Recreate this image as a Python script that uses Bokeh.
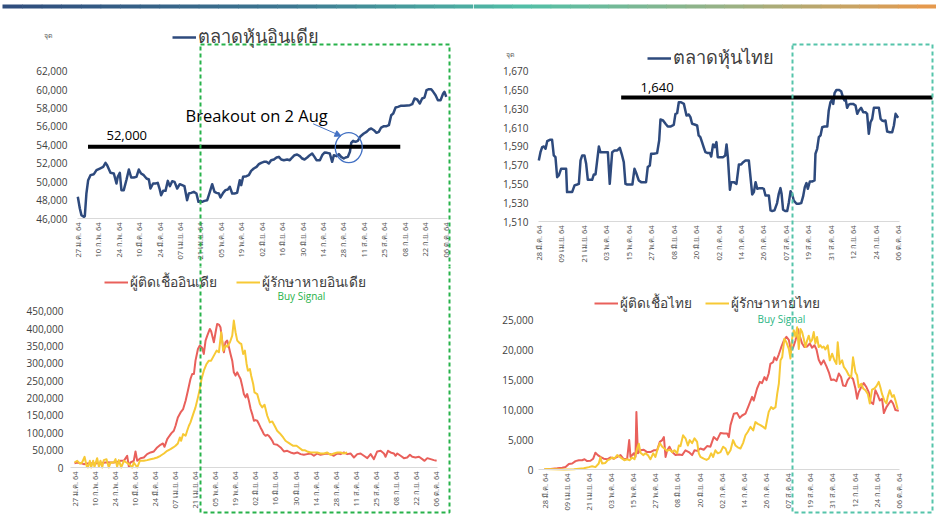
import math
from bokeh.plotting import figure
from bokeh.layouts import row, column
from bokeh.models import (Range1d, FixedTicker, NumeralTickFormatter, Label,
                          BoxAnnotation, Legend, LegendItem, Arrow, NormalHead)
from bokeh.embed import file_html
from bokeh.resources import INLINE

# ---------------- axis ticks / labels ----------------
india_tick_day = [0, 14, 28, 42, 56, 70, 84, 98, 112, 126, 140, 154, 168, 182, 196, 210, 224, 238, 252]
india_tick_label = ["27 ม.ค. 64", "10 ก.พ. 64", "24 ก.พ. 64", "10 มี.ค. 64", "24 มี.ค. 64", "07 เม.ย. 64",
                    "21 เม.ย. 64", "05 พ.ค. 64", "19 พ.ค. 64", "02 มิ.ย. 64", "16 มิ.ย. 64", "30 มิ.ย. 64",
                    "14 ก.ค. 64", "28 ก.ค. 64", "11 ส.ค. 64", "25 ส.ค. 64", "08 ก.ย. 64", "22 ก.ย. 64",
                    "06 ต.ค. 64"]
thai_tick_day = [0, 12, 24, 36, 48, 60, 72, 84, 96, 108, 120, 132, 144, 156, 168, 180, 192]
thai_tick_label = ["28 มี.ค. 64", "09 เม.ย. 64", "21 เม.ย. 64", "03 พ.ค. 64", "15 พ.ค. 64", "27 พ.ค. 64",
                   "08 มิ.ย. 64", "20 มิ.ย. 64", "02 ก.ค. 64", "14 ก.ค. 64", "26 ก.ค. 64", "07 ส.ค. 64",
                   "19 ส.ค. 64", "31 ส.ค. 64", "12 ก.ย. 64", "24 ก.ย. 64", "06 ต.ค. 64"]
india_stock_ticks = [46000, 48000, 50000, 52000, 54000, 56000, 58000, 60000, 62000]
thai_stock_ticks = [1510, 1530, 1550, 1570, 1590, 1610, 1630, 1650, 1670]
india_covid_ticks = [0, 50000, 100000, 150000, 200000, 250000, 300000, 350000, 400000, 450000]
thai_covid_ticks = [0, 5000, 10000, 15000, 20000, 25000]

# ---------------- India stock market (days after 27 Jan 2021) ----------------
india_stock_day = [0, 1.4, 2.5, 4.1, 4.8, 5.9, 7.1, 8.7, 11, 12.8,
                   15.1, 17.4, 19, 20.1, 22.4, 24.7, 26.5, 27.4, 28.8, 29.9,
                   31.5, 33.4, 35, 36.6, 38.4, 40.2, 41.8, 43.4, 45.2, 47.1,
                   48.7, 49.8, 51.6, 53.2, 54.8, 56, 57.1, 58.5, 60.1, 61.7,
                   63.1, 64.7, 66.3, 68.1, 69.9, 71.5, 73.1, 74.9, 76.1, 77.7,
                   79.5, 81.3, 82.7, 84.1, 85.2, 86.8, 88.7, 90.5, 92.1, 93.7,
                   95.1, 96.7, 97.8, 99.6, 101.2, 102.8, 104.2, 105.8, 107.4, 109.2,
                   111, 112, 113.3, 115.6, 117.2, 118.8, 120.6, 122.5, 124.1, 125.7,
                   127.5, 129.3, 130.9, 132.5, 134.4, 136.2, 137.8, 139.4, 141.2, 143.5,
                   145.3, 146.9, 148.5, 150.3, 152.2, 153.8, 155.4, 157.2, 159, 160.6,
                   162.2, 163.6, 165.9, 167.5, 169.1, 170.9, 172.7, 174.3, 175.5, 177.3,
                   178.9, 180.5, 182.3, 183.5, 185.1, 186.5, 187.4, 188.7, 190.3, 191.9,
                   193.8, 196, 197.9, 199.5, 201.1, 202.9, 204.7, 206.3, 207.9, 209.8,
                   211.6, 213.2, 214.8, 216.2, 217.8, 219.4, 221.2, 223.5, 225.7, 227.6,
                   229.2, 230.8, 232.6, 234.4, 236, 237.6, 239, 240.6, 242.2, 243.6,
                   245.2, 246.8, 248.6, 250.4, 251.3, 252.5]
india_stock = [48353, 47085, 46362, 46181, 46253, 48715, 50163, 50706, 50814, 51249,
               51430, 51611, 52045, 51792, 50959, 50887, 49801, 50525, 50959, 49077,
               49077, 50235, 51321, 50452, 50452, 50525, 51321, 50887, 50706, 50344,
               50235, 49258, 49801, 49801, 49873, 49258, 48534, 49004, 49004, 50090,
               49511, 50054, 49982, 49258, 49728, 49620, 49511, 47991, 48715, 48787,
               48896, 48715, 47810, 47918, 47810, 47918, 47991, 48896, 49728, 48896,
               48787, 48715, 48280, 48787, 49077, 49149, 49439, 48715, 48715, 48787,
               50163, 49620, 50525, 50597, 50706, 51176, 51430, 51611, 51901, 52045,
               52154, 52154, 51973, 52335, 52407, 52624, 52697, 52407, 52335, 52407,
               52335, 52624, 52878, 52950, 52769, 52516, 52407, 52624, 52878, 53059,
               52697, 52335, 52335, 52878, 53167, 53131, 53059, 52154, 52878, 52769,
               52986, 52697, 52516, 52624, 52697, 53240, 54217, 54434, 54326, 54434,
               54941, 55231, 55412, 55665, 55774, 55593, 55303, 55412, 55882, 56027,
               56027, 56136, 57222, 57403, 58055, 58127, 58235, 58235, 58271, 58308,
               58416, 59032, 58923, 58489, 59032, 59140, 59937, 60045, 60045, 59756,
               59394, 58851, 58851, 59575, 59756, 59213]
india_level = 53800            # drawn resistance line ("52,000" note)
india_level_days = (7, 221)
breakout_day, breakout_val = 185.7, 53700

# ---------------- Thai stock market (days after 28 Mar 2021) ----------------
thai_stock_day = [0, 0.9, 1.8, 2.7, 3.6, 4.5, 5.9, 7.1, 8.0, 8.9,
                  9.8, 10.7, 11.9, 13.4, 14.6, 15.1, 16.6, 17.8, 19.1, 20.5,
                  21.4, 22.3, 23.2, 24.4, 25.3, 26.2, 27.6, 28.5, 29.4, 30.3,
                  31.2, 32.1, 32.9, 34.4, 35.6, 36.9, 37.9, 39.2, 40.4, 41.9,
                  43.3, 44.5, 45.4, 46.3, 47.2, 48.6, 50.0, 51.1, 52.2, 53.4,
                  54.7, 56.1, 57.3, 58.2, 59.3, 60.0, 61.4, 63.2, 64.3, 65.0,
                  66.4, 67.7, 68.9, 70.3, 72.1, 73.0, 73.9, 74.8, 76.0, 77.5,
                  78.9, 80.1, 81.0, 81.9, 83.2, 84.6, 85.4, 86.3, 87.2, 88.2,
                  89.0, 90.3, 91.4, 92.1, 93.1, 94.0, 94.9, 95.6, 97.1, 98.5,
                  99.6, 100.3, 101.0, 102.1, 102.8, 104.2, 105.6, 106.9, 108.1, 109.2,
                  110.4, 111.7, 112.2, 113.1, 114.0, 114.9, 115.8, 116.7, 118.1, 119.3,
                  120.2, 121.1, 122.0, 122.9, 123.8, 124.7, 125.9, 127.3, 128.2, 129.1,
                  129.7, 130.5, 131.8, 132.7, 133.6, 134.5, 135.4, 136.2, 137.7, 138.9,
                  140.2, 141.2, 142.1, 143.0, 143.7, 144.8, 146.0, 147.3, 147.8, 148.7,
                  149.6, 150.5, 151.4, 152.6, 154.1, 154.9, 155.8, 156.7, 157.3, 158.0,
                  159.0, 160.3, 161.5, 162.6, 163.3, 163.9, 164.7, 165.6, 166.5, 167.9,
                  169.2, 170.1, 171.0, 172.2, 173.3, 174.5, 175.4, 176.3, 177.2, 178.1,
                  179.0, 180.4, 181.7, 182.6, 183.4, 184.3, 185.2, 186.1, 187.5, 188.8,
                  189.7, 190.6, 191.5, 192.0]
thai_stock = [1575.0, 1583.8, 1589.2, 1589.9, 1587.4, 1595.5, 1597.0, 1597.0, 1580.3, 1578.5,
              1557.2, 1559.0, 1566.1, 1566.1, 1566.1, 1541.3, 1541.3, 1541.3, 1548.4, 1549.4,
              1550.1, 1575.0, 1580.3, 1580.3, 1571.4, 1554.4, 1554.4, 1554.4, 1560.1, 1560.1,
              1575.0, 1589.9, 1583.8, 1583.8, 1583.8, 1583.8, 1550.1, 1583.8, 1585.6, 1585.6,
              1588.4, 1580.3, 1573.2, 1550.1, 1549.4, 1549.4, 1549.4, 1566.1, 1560.8, 1553.7,
              1551.9, 1551.9, 1551.9, 1567.9, 1569.6, 1582.1, 1582.1, 1582.8, 1596.2, 1618.6,
              1617.5, 1614.0, 1611.1, 1611.1, 1612.9, 1624.6, 1625.3, 1637.0, 1637.0, 1635.2,
              1622.8, 1623.9, 1621.1, 1614.0, 1613.3, 1612.2, 1601.6, 1599.8, 1594.5, 1588.4,
              1583.8, 1582.8, 1582.8, 1579.2, 1592.0, 1589.2, 1594.5, 1578.5, 1578.5, 1578.5,
              1580.3, 1592.0, 1578.5, 1543.8, 1551.9, 1551.9, 1550.1, 1570.7, 1570.7, 1573.2,
              1575.0, 1575.0, 1575.0, 1557.2, 1538.8, 1541.3, 1551.9, 1544.8, 1545.5, 1545.5,
              1544.8, 1537.7, 1537.7, 1537.7, 1521.8, 1521.1, 1521.8, 1529.6, 1539.5, 1545.5,
              1539.5, 1522.5, 1521.1, 1521.1, 1530.6, 1542.3, 1538.8, 1532.4, 1528.9, 1528.9,
              1529.6, 1536.7, 1546.6, 1550.9, 1544.8, 1552.6, 1552.6, 1553.7, 1582.1, 1587.4,
              1599.8, 1601.6, 1610.4, 1611.1, 1611.1, 1628.2, 1637.0, 1639.5, 1635.2, 1646.6,
              1650.1, 1650.1, 1648.7, 1641.6, 1638.8, 1640.6, 1631.0, 1634.5, 1635.2, 1635.2,
              1633.5, 1624.6, 1628.2, 1631.0, 1626.4, 1626.4, 1624.6, 1603.3, 1615.7, 1619.3,
              1631.0, 1631.0, 1631.0, 1619.3, 1617.5, 1616.8, 1617.5, 1605.8, 1605.1, 1605.1,
              1612.2, 1624.6, 1621.8, 1620.4]
thai_level = 1642              # drawn resistance line ("1,640" note)
thai_level_start_day = 44

# ---------------- India daily cases / recoveries (thousands, days after 27 Jan) ----------------
india_case_day = [0, 1.9, 4.2, 6.5, 8.8, 11.2, 13.5, 15.8, 18.1, 20.4,
                  22.8, 25.1, 27.4, 29.7, 32.1, 34.4, 36.7, 37.9, 39.0, 41.3,
                  42.5, 43.7, 46.0, 48.3, 50.6, 53.0, 55.3, 57.6, 59.9, 61.6,
                  62.7, 64.6, 66.2, 67.4, 69.2, 70.4, 72.0, 73.9, 75.7, 77.4,
                  79.0, 80.8, 82.0, 83.2, 84.3, 86.0, 87.3, 89.0, 90.1, 91.3,
                  92.5, 94.3, 95.2, 97.1, 98.3, 99.4, 100.6, 101.7, 102.9, 104.1,
                  105.2, 106.4, 107.6, 108.7, 109.9, 111.0, 112.2, 113.4, 114.5, 115.7,
                  116.8, 118.0, 119.2, 120.3, 121.5, 122.7, 123.8, 125.0, 126.1, 127.3,
                  128.5, 129.6, 130.8, 131.9, 133.1, 134.3, 135.4, 136.6, 137.8, 138.9,
                  141.2, 143.6, 145.9, 148.2, 150.5, 152.9, 155.2, 157.5, 159.8, 162.1,
                  164.5, 166.8, 169.1, 171.4, 173.8, 176.1, 178.4, 180.7, 183.1, 185.4,
                  187.7, 190.0, 192.3, 194.7, 197.0, 199.3, 201.6, 204.0, 206.3, 208.6,
                  210.9, 213.3, 215.6, 216.7, 218.4, 220.2, 222.5, 223.7, 224.9, 227.2,
                  229.5, 231.8, 233.7, 235.3, 237.6, 240.0, 242.3, 243.9, 245.8, 248.1,
                  250.4, 252.3]
india_cases_k = [12.5, 14.4, 12.5, 9.6, 11.5, 12.5, 11.5, 12.5, 13.5, 13.5,
                 15.4, 14.4, 14.4, 16.3, 19.2, 19.2, 33.7, 1.9, 14.4, 19.2,
                 46.2, 19.2, 26.9, 28.8, 38.5, 43.3, 46.2, 57.7, 65.4, 69.2,
                 59.6, 81.7, 91.3, 98.1, 105.8, 120.2, 144.2, 158.6, 168.3, 192.3,
                 221.1, 254.8, 269.2, 269.2, 307.7, 341.3, 351.0, 344.2, 326.9, 365.4,
                 379.8, 399.0, 392.3, 360.6, 389.4, 413.4, 411.5, 403.8, 365.4, 331.7,
                 360.6, 365.4, 346.2, 326.9, 307.7, 274.0, 264.4, 274.0, 264.4, 254.8,
                 235.6, 211.5, 201.9, 211.5, 192.3, 168.3, 153.8, 134.6, 136.5, 134.6,
                 125.0, 115.4, 105.8, 96.2, 91.3, 94.2, 91.3, 84.6, 76.9, 67.3,
                 65.4, 57.7, 46.2, 48.1, 43.3, 40.4, 43.3, 38.5, 36.5, 38.5,
                 40.4, 33.7, 40.4, 36.5, 38.5, 40.4, 38.5, 33.7, 40.4, 38.5,
                 43.3, 38.5, 40.4, 28.8, 38.5, 40.4, 33.7, 26.9, 38.5, 24.0,
                 46.2, 48.1, 40.4, 30.8, 48.1, 43.3, 40.4, 33.7, 40.4, 33.7,
                 26.9, 28.8, 36.5, 30.8, 28.8, 30.8, 24.0, 19.2, 26.9, 24.0,
                 21.2, 19.2]
india_recov_day = [0, 1.9, 3.7, 5.3, 7.0, 8.4, 9.3, 10.7, 11.6, 13.0,
                   13.9, 15.8, 17.0, 18.1, 19.3, 20.4, 22.3, 23.9, 25.1, 27.4,
                   28.6, 29.7, 30.9, 32.5, 34.4, 36.2, 38.6, 40.2, 41.3, 43.7,
                   45.5, 48.3, 50.6, 53.0, 55.3, 57.6, 59.9, 62.3, 64.6, 66.9,
                   68.8, 70.4, 72.0, 73.4, 74.3, 75.7, 77.4, 78.5, 79.7, 80.8,
                   82.7, 84.3, 86.0, 87.3, 88.5, 90.1, 92.0, 93.6, 95.2, 97.1,
                   99.0, 100.6, 102.2, 103.6, 105.2, 106.4, 108.3, 109.9, 111.0, 112.2,
                   113.4, 115.2, 116.2, 117.5, 118.7, 119.9, 120.8, 122.2, 123.1, 124.5,
                   125.4, 127.3, 129.2, 130.8, 132.4, 134.3, 136.1, 137.8, 139.4, 141.2,
                   143.1, 145.4, 147.0, 148.7, 150.5, 152.4, 154.7, 156.3, 158.7, 160.3,
                   162.1, 164.5, 166.8, 169.1, 171.4, 173.8, 176.1, 178.4, 180.7, 183.1,
                   185.4, 187.7, 190.0]
india_recov_k = [14.4, 19.2, 11.5, 14.4, 30.8, 4.8, 0, 19.2, 0, 19.2,
                 1.9, 26.9, 1.9, 19.2, 0, 21.2, 24.0, 0, 14.4, 14.4,
                 24.0, 1.9, 21.2, 0, 19.2, 14.4, 7.7, 0, 14.4, 0,
                 19.2, 19.2, 21.2, 24.0, 26.0, 28.8, 33.7, 40.4, 48.1, 52.9,
                 57.7, 62.5, 69.2, 86.5, 76.9, 96.2, 91.3, 105.8, 120.2, 129.8,
                 153.8, 173.1, 201.9, 226.0, 254.8, 278.8, 298.1, 307.7, 307.7, 322.1,
                 336.5, 331.7, 389.4, 336.5, 351.0, 348.1, 360.6, 379.8, 423.1, 389.4,
                 365.4, 357.7, 355.8, 326.9, 336.5, 298.1, 278.8, 283.7, 264.4, 240.4,
                 216.3, 211.5, 182.7, 173.1, 180.8, 149.0, 129.8, 132.7, 120.2, 105.8,
                 98.1, 86.5, 76.9, 72.1, 67.3, 62.5, 62.5, 57.7, 50.0, 50.0,
                 46.2, 43.3, 43.3, 43.3, 40.4, 40.4, 43.3, 36.5, 40.4, 43.3,
                 43.3, 40.4, 43.3]

# ---------------- Thai daily cases / recoveries (thousands, days after 28 Mar) ----------------
thai_case_day = [0, 3.3, 6.9, 9.6, 11.4, 13.2, 15.0, 16.8, 18.6, 20.4,
                 21.7, 23.1, 24.9, 26.4, 27.6, 28.9, 30.3, 32.1, 34.0, 35.8,
                 37.6, 39.4, 41.2, 43.0, 44.8, 45.9, 46.6, 47.5, 48.4, 49.3,
                 49.8, 50.6, 52.0, 53.8, 55.6, 57.4, 59.2, 61.0, 62.5, 63.8,
                 64.7, 65.6, 66.5, 67.7, 69.2, 71.0, 72.8, 74.6, 76.4, 78.2,
                 80.0, 81.3, 82.7, 84.5, 86.3, 88.1, 89.9, 91.7, 93.5, 95.4,
                 97.2, 99.0, 99.9, 100.8, 102.6, 104.4, 105.8, 107.1, 108.9, 110.7,
                 112.5, 113.4, 115.2, 116.7, 117.9, 119.2, 120.3, 121.5, 122.4, 123.9,
                 124.6, 125.7, 127.0, 128.2, 129.7, 131.1, 132.4, 133.6, 134.7, 136.0,
                 137.3, 138.3, 139.6, 140.9, 142.3, 143.8, 145.0, 146.3, 147.4, 148.6,
                 149.9, 151.3, 152.8, 154.1, 155.3, 156.8, 158.2, 159.5, 160.7, 161.8,
                 163.1, 164.3, 165.8, 167.2, 168.5, 169.4, 170.3, 171.6, 173.0, 174.5,
                 175.7, 176.6, 178.1, 179.3, 180.6, 181.7, 182.9, 183.9, 185.3, 186.6,
                 187.8, 188.9, 190.2, 192.0]
thai_cases_k = [0.1, 0.1, 0.2, 0.3, 0.4, 0.9, 1.0, 1.4, 1.55, 1.55,
                1.7, 1.4, 1.45, 1.8, 2.8, 2.4, 2.1, 1.8, 1.7, 2.0,
                1.8, 2.1, 2.4, 1.7, 1.8, 4.9, 2.1, 2.4, 2.7, 2.1,
                9.6, 2.7, 3.2, 3.3, 2.9, 2.9, 3.2, 3.2, 4.6, 4.9,
                5.4, 2.1, 3.2, 3.8, 2.9, 2.4, 2.5, 2.4, 3.2, 2.9,
                2.4, 3.2, 3.1, 3.5, 3.3, 3.9, 3.8, 5.4, 4.9, 6.1,
                6.0, 6.0, 5.4, 7.4, 9.3, 9.4, 8.6, 9.0, 9.3, 10.7,
                12.1, 11.5, 13.5, 14.6, 14.4, 15.4, 14.9, 16.0, 17.6, 17.9,
                18.7, 18.2, 19.2, 20.3, 21.5, 22.1, 21.6, 19.8, 20.3, 21.5,
                23.4, 22.3, 21.0, 20.4, 20.5, 21.0, 20.3, 20.7, 20.0, 18.3,
                17.5, 18.2, 17.2, 16.2, 14.9, 15.0, 14.7, 16.0, 15.4, 14.0,
                13.9, 14.9, 15.5, 15.1, 13.5, 11.8, 12.9, 13.7, 14.4, 13.7,
                12.9, 11.3, 10.9, 13.2, 12.4, 11.5, 11.8, 9.4, 10.4, 11.0,
                11.5, 11.0, 9.9, 9.8]
thai_recov_day = [0, 5.1, 10.5, 15.9, 21.3, 24.0, 25.8, 27.6, 29.4, 30.3,
                  31.2, 33.0, 34.3, 35.4, 36.7, 37.9, 39.4, 40.8, 42.1, 43.3,
                  44.8, 46.2, 47.5, 48.8, 50.2, 51.1, 52.0, 53.5, 54.7, 56.0,
                  57.4, 58.9, 60.1, 61.0, 62.5, 63.8, 65.0, 66.5, 67.9, 69.2,
                  70.4, 71.9, 72.8, 73.7, 75.1, 76.4, 77.7, 78.7, 80.0, 81.3,
                  82.7, 83.6, 84.5, 86.3, 87.8, 89.0, 90.3, 91.4, 92.6, 93.9,
                  95.4, 96.8, 98.1, 99.3, 100.8, 102.2, 103.5, 104.7, 106.2, 107.6,
                  108.9, 110.2, 111.6, 113.1, 114.3, 115.6, 117.0, 118.5, 119.7, 120.6,
                  121.5, 122.8, 123.9, 125.2, 126.1, 127.0, 127.9, 128.8, 130.0, 131.1,
                  132.4, 133.3, 134.2, 135.1, 136.0, 136.9, 137.8, 138.7, 139.6, 140.5,
                  141.4, 142.3, 143.2, 144.1, 145.0, 145.9, 146.8, 147.7, 148.6, 149.5,
                  150.4, 151.3, 152.2, 153.5, 154.6, 155.9, 157.1, 158.2, 158.9, 160.0,
                  161.3, 162.2, 163.6, 164.9, 166.2, 167.2, 168.5, 169.4, 170.3, 171.6,
                  172.7, 173.9, 175.2, 176.3, 177.5, 178.8, 179.9, 181.1, 182.0, 182.9,
                  184.2, 185.3, 186.0, 187.1, 188.4, 189.3, 190.2, 191.4]
thai_recov_k = [0.1, 0.05, 0, 0.05, 0.2, 0.4, 0.55, 0.4, 1.0, 2.0,
                1.0, 1.1, 1.55, 1.7, 2.0, 1.8, 2.4, 2.1, 1.8, 1.55,
                1.7, 1.55, 2.0, 1.7, 3.5, 4.3, 2.8, 2.4, 2.7, 2.4,
                1.7, 2.7, 2.1, 3.1, 4.4, 3.8, 3.5, 3.1, 3.3, 2.9,
                3.2, 2.7, 4.0, 3.9, 5.7, 5.2, 4.0, 4.9, 4.4, 5.2,
                4.6, 2.7, 2.1, 1.8, 1.6, 1.8, 2.7, 2.1, 3.2, 2.7,
                2.9, 3.8, 3.5, 2.5, 3.2, 4.9, 4.0, 3.7, 3.5, 4.4,
                5.7, 6.3, 7.1, 6.5, 7.9, 7.6, 7.4, 7.1, 6.8, 8.2,
                9.6, 10.4, 10.1, 10.4, 12.6, 14.3, 18.2, 18.7, 21.8, 21.2,
                20.1, 18.5, 21.8, 23.2, 22.1, 23.7, 20.1, 23.4, 22.9, 21.8,
                20.4, 21.5, 22.3, 21.2, 21.6, 22.9, 21.0, 22.1, 20.4, 20.7,
                20.3, 20.5, 20.0, 20.7, 18.2, 19.3, 18.2, 17.6, 21.2, 17.6,
                18.2, 17.1, 16.5, 15.7, 15.4, 18.7, 16.2, 15.7, 13.7, 14.3,
                13.5, 13.2, 12.6, 11.0, 13.3, 13.5, 13.9, 14.6, 13.7, 12.6,
                11.5, 11.0, 12.1, 13.2, 12.1, 12.4, 11.5, 10.1]

# ---------------- styles ----------------
NAVY = "#2E4A7D"
RED = "#E9605B"
YEL = "#F7C935"
GREEN = "#27B24A"
TEAL = "#55C4AA"
BLUE = "#4472C4"
AXIS = "#D9D9D9"
THAI_FONT = "Noto Sans"
NUM_FONT = "Open Sans"
BAR_STOPS = [(0.0, (47, 75, 124)), (0.3, (60, 118, 145)), (0.56, (82, 191, 167)),
             (0.78, (155, 177, 132)), (1.0, (233, 152, 74))]


def lin(p0, v0, p1, v1):
    k = (v1 - v0) / (p1 - p0)
    return lambda p: v0 + (p - p0) * k


def make_panel(x0, y0, w, h, xcal, ycal, xticks, xlabels, yticks,
               xaxis_value, yaxis_px, xbounds_px, ystandoff):
    """Frame covers the whole figure; axes are pinned with fixed_location."""
    fx = lin(*xcal)
    fy = lin(*ycal)
    p = figure(width=w, height=h, output_backend="svg", toolbar_location=None, title=None,
               x_range=Range1d(fx(x0), fx(x0 + w)), y_range=Range1d(fy(y0 + h), fy(y0)),
               min_border_left=0, min_border_right=0, min_border_top=0, min_border_bottom=0,
               background_fill_color="white", border_fill_color="white",
               outline_line_color=None)
    p.grid.visible = False
    xa = p.xaxis[0]
    xa.fixed_location = xaxis_value
    xa.bounds = (fx(xbounds_px[0]), fx(xbounds_px[1]))
    xa.ticker = FixedTicker(ticks=xticks)
    xa.major_label_overrides = {t: s for t, s in zip(xticks, xlabels)}
    xa.major_label_orientation = math.pi / 2
    xa.major_tick_in = 0
    xa.major_tick_out = 0
    xa.minor_tick_in = 0
    xa.minor_tick_out = 0
    xa.axis_line_color = AXIS
    xa.axis_line_width = 1
    xa.major_label_text_font = THAI_FONT
    xa.major_label_text_font_size = "7.5px"
    xa.major_label_text_color = "#595959"
    xa.major_label_standoff = 4
    ya = p.yaxis[0]
    ya.fixed_location = fx(yaxis_px)
    ya.ticker = FixedTicker(ticks=yticks)
    ya.formatter = NumeralTickFormatter(format="0,0")
    ya.axis_line_color = None
    ya.major_tick_in = 0
    ya.major_tick_out = 0
    ya.minor_tick_in = 0
    ya.minor_tick_out = 0
    ya.major_label_text_font = NUM_FONT
    ya.major_label_text_font_size = "10px"
    ya.major_label_text_color = "#404040"
    ya.major_label_standoff = ystandoff
    return p, fx, fy


def add_legend(p, items, vx, vy, size, spacing):
    lg = Legend(items=[LegendItem(label=t, renderers=[r]) for t, r in items],
                location=(vx, vy), orientation="horizontal",
                glyph_width=24, glyph_height=14, label_standoff=2, spacing=spacing,
                padding=0, margin=0, background_fill_alpha=0, border_line_alpha=0,
                label_text_font=THAI_FONT, label_text_font_size=size,
                label_text_color="#404040", label_height=14)
    p.add_layout(lg)


def label(p, x, y, text, size, color, font=NUM_FONT):
    p.add_layout(Label(x=x, y=y, text=text, text_font=font, text_font_size=size,
                       text_color=color, text_baseline="alphabetic", text_align="left"))


def dashed_box(p, left, right, top, bottom, color):
    p.add_layout(BoxAnnotation(left=left, right=right, top=top, bottom=bottom,
                               fill_alpha=0, line_color=color, line_alpha=1, line_width=2,
                               line_dash="4 3", level="overlay"))


def top_bar(p, fx, fy, px_from, px_to, total_from, total_to, steps=40):
    lefts, rights, cols = [], [], []
    for i in range(steps):
        a = px_from + (px_to - px_from) * i / steps
        b = px_from + (px_to - px_from) * (i + 1) / steps + 0.6
        t = ((a + b) / 2 - total_from) / (total_to - total_from)
        for (t0, c0), (t1, c1) in zip(BAR_STOPS[:-1], BAR_STOPS[1:]):
            if t0 <= t <= t1:
                u = (t - t0) / (t1 - t0)
                c = tuple(int(round(c0[k] + (c1[k] - c0[k]) * u)) for k in range(3))
                break
        lefts.append(fx(a))
        rights.append(fx(b))
        cols.append("#%02x%02x%02x" % c)
    p.quad(left=lefts, right=rights, top=fy(4), bottom=fy(8), fill_color=cols,
           line_color=None)


# ================= top-left: India stock =================
tl, fx, fy = make_panel(0, 0, 473, 266, (77.3, 0, 445.0, 252), (70.7, 62000, 218.0, 46000),
                        india_tick_day, india_tick_label, india_stock_ticks,
                        46000, 76, (76.5, 446.5), 9)
top_bar(tl, fx, fy, 2, 473, 2, 937, steps=24)
r = tl.line(india_stock_day, india_stock, line_color=NAVY, line_width=2.5, line_join="round")
tl.segment(x0=[india_level_days[0]], y0=[india_level], x1=[india_level_days[1]],
           y1=[india_level], line_color="black", line_width=4)
tl.ellipse(x=[breakout_day], y=[breakout_val], width=27, height=30, width_units="screen",
           height_units="screen", fill_alpha=0, line_color=BLUE, line_width=1.3)
tl.add_layout(Arrow(end=NormalHead(size=6, fill_color=BLUE, line_color=BLUE),
                    x_start=fx(312.7), y_start=fy(123.3), x_end=fx(340.5), y_end=fy(135.5),
                    line_color=BLUE, line_width=1))
add_legend(tl, [("ตลาดหุ้นอินเดีย", r)], 172, 215, "18.2px", 20)
label(tl, fx(106), fy(134.5), "52,000", "13px", "black")
label(tl, fx(185), fy(114.5), "Breakout on 2 Aug", "16.5px", "black")
label(tl, fx(43), fy(35), "จุด", "7px", "#595959", THAI_FONT)
dashed_box(tl, fx(200), fx(449), fy(44), fy(512), GREEN)

# ================= top-right: Thai stock =================
tr, gx, gy = make_panel(473, 0, 463, 266, (538.3, 0, 897.7, 192), (70.7, 1670, 221.0, 1510),
                        thai_tick_day, thai_tick_label, thai_stock_ticks,
                        1510, 537, (538, 898.5), 9)
top_bar(tr, gx, gy, 473, 936, 2, 937, steps=24)
r = tr.line(thai_stock_day, thai_stock, line_color=NAVY, line_width=2.5, line_join="round")
tr.segment(x0=[thai_level_start_day], y0=[thai_level], x1=[gx(932)], y1=[thai_level],
           line_color="black", line_width=4)
add_legend(tr, [("ตลาดหุ้นไทย", r)], 174, 194, "18.2px", 20)
label(tr, gx(640), gy(86.5), "1,640", "13px", "black")
label(tr, gx(505), gy(54), "จุด", "7px", "#595959", THAI_FONT)
dashed_box(tr, gx(792), gx(932), gy(44), gy(512), TEAL)

# ================= bottom-left: India COVID =================
bl, hx, hy = make_panel(0, 266, 473, 264, (74.0, 0, 435.7, 252), (310.7, 450000, 467.0, 0),
                        india_tick_day, india_tick_label, india_covid_ticks,
                        0, 70, (70, 437), 7)
r1 = bl.line(india_case_day, [v * 1000 for v in india_cases_k], line_color=RED,
             line_width=2, line_join="round")
r2 = bl.line(india_recov_day, [v * 1000 for v in india_recov_k], line_color=YEL,
             line_width=2, line_join="round")
add_legend(bl, [("ผู้ติดเชื้ออินเดีย", r1), ("ผู้รักษาหายอินเดีย", r2)], 104, 237, "13.8px", 19)
label(bl, hx(277), hy(295.5), "Buy Signal", "10px", GREEN)
dashed_box(bl, hx(200), hx(449), hy(44), hy(512), GREEN)

# ================= bottom-right: Thai COVID =================
br, kx, ky = make_panel(473, 266, 463, 264, (544.0, 0, 898.3, 192), (319.0, 25000, 469.0, 0),
                        thai_tick_day, thai_tick_label, thai_covid_ticks,
                        0, 538, (538, 898.5), 5)
r1 = br.line(thai_case_day, [v * 1000 for v in thai_cases_k], line_color=RED,
             line_width=2, line_join="round")
r2 = br.line(thai_recov_day, [v * 1000 for v in thai_recov_k], line_color=YEL,
             line_width=2, line_join="round")
add_legend(br, [("ผู้ติดเชื้อไทย", r1), ("ผู้รักษาหายไทย", r2)], 121, 216, "13.6px", 13)
label(br, kx(757), ky(318.5), "Buy Signal", "10px", "#2BB583")
dashed_box(br, kx(792), kx(932), ky(44), ky(512), TEAL)

layout = column(row(tl, tr), row(bl, br))
open("out.html", "w").write(file_html(layout, INLINE))
